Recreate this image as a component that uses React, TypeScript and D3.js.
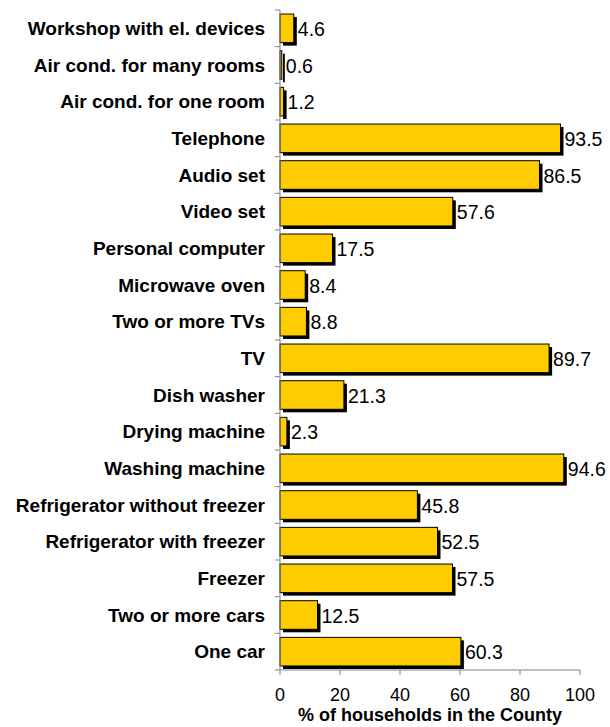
import React from "react";
import * as d3 from "d3";

const categories = [
  "Workshop with el. devices",
  "Air cond. for many rooms",
  "Air cond. for one room",
  "Telephone",
  "Audio set",
  "Video set",
  "Personal computer",
  "Microwave oven",
  "Two or more TVs",
  "TV",
  "Dish washer",
  "Drying machine",
  "Washing machine",
  "Refrigerator without freezer",
  "Refrigerator with freezer",
  "Freezer",
  "Two or more cars",
  "One car",
];
const values = [4.6, 0.6, 1.2, 93.5, 86.5, 57.6, 17.5, 8.4, 8.8, 89.7, 21.3, 2.3, 94.6, 45.8, 52.5, 57.5, 12.5, 60.3];
const xTicks = [0, 20, 40, 60, 80, 100];
const xTitle = "% of households in the County";

export default function App() {
  const W = 610, H = 727;
  const x = d3.scaleLinear().domain([0, 100]).range([280, 580]);
  const y = d3.scaleBand<string>().domain(categories).range([10, 670]).paddingInner(0.22).paddingOuter(0.11);
  const step = y.step();
  const font = "Liberation Sans, Arial, sans-serif";
  return (
    <svg width={W} height={H} style={{ position: "absolute", left: 0, top: 0 }} fontFamily={font}>
      {categories.map((c, i) => {
        const y0 = y(c)!;
        const bw = x(values[i]) - x(0);
        return (
          <g key={c}>
            <rect x={x(0) + 3} y={y0 + 3} width={bw} height={y.bandwidth()} fill="#000" />
            <rect x={x(0)} y={y0} width={bw} height={y.bandwidth()} fill="#FFCC00" stroke="#000" strokeWidth={1} />
            <text x={x(values[i]) + 4} y={y0 + y.bandwidth() / 2 + 1} dy="0.35em" fontSize={19.5} fill="#000">
              {values[i].toFixed(1)}
            </text>
            <text x={265} y={y0 + y.bandwidth() / 2} dy="0.35em" fontSize={19} fontWeight="bold" textAnchor="end" fill="#000">
              {c}
            </text>
          </g>
        );
      })}
      {/* y axis */}
      <line x1={280} x2={280} y1={10} y2={670} stroke="#808080" />
      {d3.range(categories.length + 1).map((k) => (
        <line key={k} x1={275} x2={280} y1={10 + k * step} y2={10 + k * step} stroke="#808080" />
      ))}
      {/* x axis */}
      <line x1={280} x2={580} y1={670} y2={670} stroke="#808080" />
      {xTicks.map((t) => (
        <g key={t}>
          <line x1={x(t)} x2={x(t)} y1={670} y2={675} stroke="#808080" />
          <text x={x(t)} y={701} fontSize={18} textAnchor="middle" fill="#000">{t}</text>
        </g>
      ))}
      <text x={430} y={721} fontSize={18} fontWeight="bold" textAnchor="middle" fill="#000">{xTitle}</text>
    </svg>
  );
}
